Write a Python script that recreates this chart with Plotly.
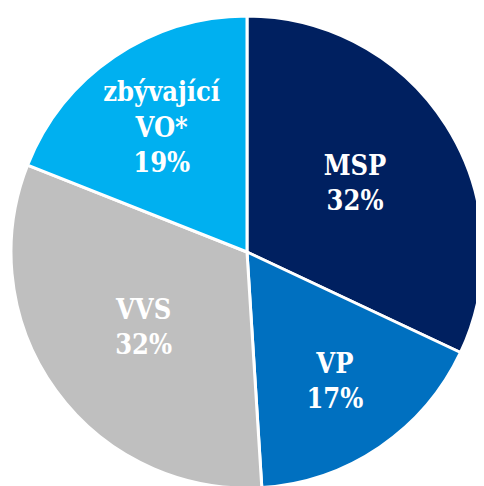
import plotly.graph_objects as go

labels = ["MSP", "VP", "VVS", "zbývající<br>VO*"]
values = [32, 17, 32, 19]
colors = ["#002060", "#0070C0", "#BFBFBF", "#00B0F0"]

texts = [f"{l}<br>{v}%" for l, v in zip(labels, values)]

fig = go.Figure(go.Pie(
    labels=labels,
    values=values,
    text=texts,
    textinfo="text",
    textposition="inside",
    insidetextorientation="horizontal",
    sort=False,
    direction="clockwise",
    rotation=0,
    marker=dict(colors=colors, line=dict(color="white", width=3)),
    textfont=dict(family="DejaVu Serif Condensed, DejaVu Serif, serif", size=27, color="white", weight="bold"),
    hoverinfo="skip",
))
fig.update_layout(
    width=484, height=486,
    margin=dict(l=3, r=9, t=8, b=6),
    showlegend=False,
    paper_bgcolor="white",
    plot_bgcolor="white",
)
fig.write_html("out.html")
